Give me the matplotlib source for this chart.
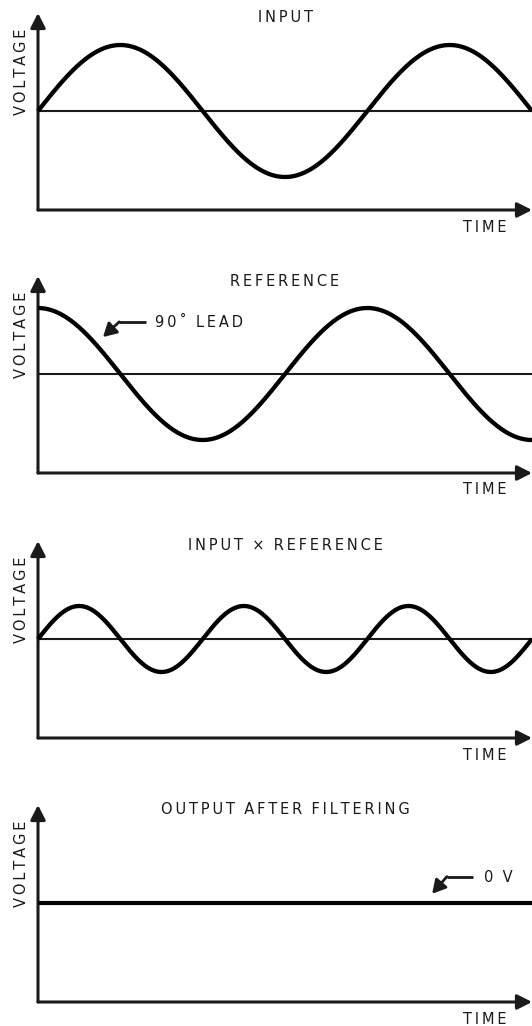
import numpy as np
import matplotlib
matplotlib.use('Agg')
import matplotlib.pyplot as plt

plt.rcParams['font.family'] = ['DejaVu Sans']

#%% data
titles = ['INPUT', 'REFERENCE', 'INPUT × REFERENCE', 'OUTPUT AFTER FILTERING']
x_label = 'TIME'
y_label = 'VOLTAGE'
t_end = 3 * np.pi            # 1.5 cycles of the input across the axis
input_amp = 1.0
input_phase = 0.0            # radians
reference_phase = np.pi / 2  # 90 deg lead
lead_label = '90˚ LEAD'
out_label = '0 V'

t = np.linspace(0, t_end, 600)
v_input = input_amp * np.sin(t + input_phase)
v_ref = input_amp * np.sin(t + reference_phase)
v_mult = v_input * v_ref
v_out = np.zeros_like(t)     # average of the product -> 0
signals = [v_input, v_ref, v_mult, v_out]

#%% layout (pixels)
W, H = 532, 1026
tops = [13, 276, 541, 805]
panel_h = 197
left_px = 38
ylo, yhi = -99 / 66, 98 / 66
ink = '#1a1a1a'
fs = 10.5


def spaced(s):
    # crude letter spacing with thin spaces
    return '\u2009'.join(list(s)).replace('\u2009 \u2009', '  ')


fig = plt.figure(figsize=(W / 100, H / 100), dpi=100)


def fx(px):
    return px / W


def fy(py):
    return 1 - py / H


for i, (title, sig) in enumerate(zip(titles, signals)):
    top = tops[i]
    ax = fig.add_axes([fx(left_px), fy(top + panel_h), fx(W - left_px), panel_h / H])
    ax.set_xlim(0, t_end)
    ax.set_ylim(ylo, yhi)
    ax.axis('off')

    # axes with arrow heads
    ax.annotate('', xy=(1.0, 0), xytext=(0, 0), xycoords='axes fraction',
                arrowprops=dict(arrowstyle='-|>,head_length=0.55,head_width=0.28',
                                lw=2.2, color=ink, mutation_scale=16, shrinkA=0, shrinkB=0),
                annotation_clip=False)
    ax.annotate('', xy=(0, 1.0), xytext=(0, 0), xycoords='axes fraction',
                arrowprops=dict(arrowstyle='-|>,head_length=0.55,head_width=0.28',
                                lw=2.2, color=ink, mutation_scale=16, shrinkA=0, shrinkB=0),
                annotation_clip=False)

    if i < 3:
        ax.axhline(0, color=ink, lw=1.5, zorder=1)
        ax.plot(t, sig, color='black', lw=3.1, solid_capstyle='butt', zorder=3, clip_on=False)
    else:
        ax.plot(t, sig, color='black', lw=3.0, solid_capstyle='butt', zorder=3, clip_on=False)

    fig.text(fx(285), fy(top + 5), spaced(title), ha='center', va='center',
             fontsize=fs, color=ink)
    fig.text(fx(485), fy(top + 214), spaced(x_label), ha='center', va='center',
             fontsize=fs, color=ink)
    fig.text(fx(22), fy(top + 59), spaced(y_label), ha='center', va='center',
             rotation=90, fontsize=fs, color=ink)

    if i == 1:
        # bent pointer to the reference curve
        ax.plot([2.06, 1.55], [0.79, 0.79], color=ink, lw=2.0, solid_capstyle='butt')
        ax.annotate('', xy=(1.24, 0.56), xytext=(1.55, 0.79),
                    arrowprops=dict(arrowstyle='-|>,head_length=0.5,head_width=0.28',
                                    lw=2.0, color=ink, mutation_scale=16,
                                    shrinkA=0, shrinkB=0))
        ax.text(2.24, 0.78, spaced(lead_label), ha='left', va='center',
                fontsize=fs, color=ink)
    if i == 3:
        ax.plot([8.3, 7.8], [0.4, 0.4], color=ink, lw=2.0, solid_capstyle='butt')
        ax.annotate('', xy=(7.52, 0.14), xytext=(7.8, 0.4),
                    arrowprops=dict(arrowstyle='-|>,head_length=0.5,head_width=0.28',
                                    lw=2.0, color=ink, mutation_scale=16,
                                    shrinkA=0, shrinkB=0))
        ax.text(8.5, 0.39, spaced(out_label), ha='left', va='center',
                fontsize=fs, color=ink)

fig.savefig('out.png', dpi=100, facecolor='white')
